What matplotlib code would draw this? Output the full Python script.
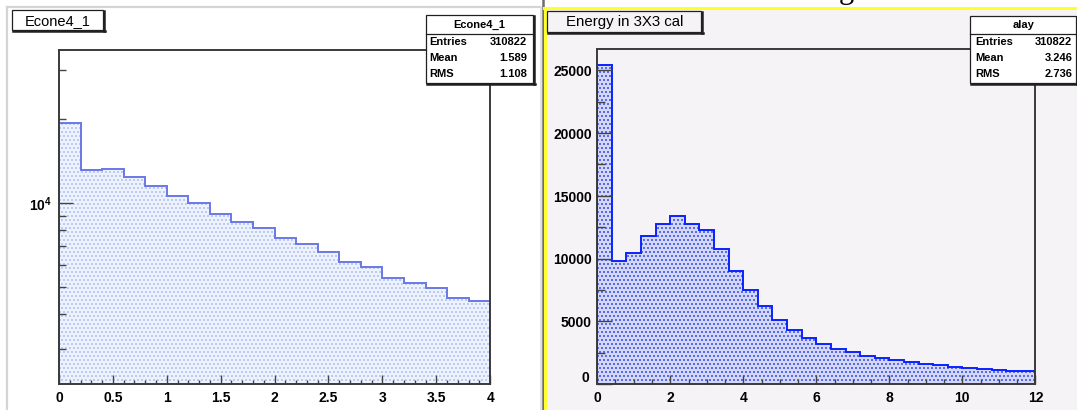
import numpy as np
import matplotlib
matplotlib.use("Agg")
import matplotlib.pyplot as plt
from matplotlib.patches import Rectangle
from matplotlib.lines import Line2D
from matplotlib.ticker import FixedLocator, FixedFormatter, NullFormatter

# ---------------- data ----------------
# Econe4_1 : 20 bins on [0, 4], log y
econe_range = (0.0, 4.0)
econe_counts = [19400, 13190, 13300, 12380, 11530, 10640, 10020, 9150, 8590, 8140,
                7510, 7120, 6700, 6130, 5895, 5395, 5170, 4940, 4545, 4455]
econe_stats = [("Entries", "310822"), ("Mean", "1.589"), ("RMS", "1.108")]
econe_xticks = [0, 0.5, 1, 1.5, 2, 2.5, 3, 3.5, 4]
econe_xticklabels = ["0", "0.5", "1", "1.5", "2", "2.5", "3", "3.5", "4"]
econe_yticks = [1e4]
econe_yticklabels = [r"$10^{4}$"]
econe_yminor = [2000, 3000, 4000, 5000, 6000, 7000, 8000, 9000, 20000, 30000]

# alay : energy in 3x3 cal, 30 bins on [0, 12]
alay_range = (0.0, 12.0)
alay_counts = [25460, 9780, 10410, 11830, 12790, 13390, 12790, 12270, 10760, 9040,
               7490, 6230, 5110, 4340, 3630, 3170, 2810, 2570, 2210, 2050,
               1890, 1750, 1610, 1500, 1370, 1280, 1200, 1120, 1040, 1040]
alay_stats = [("Entries", "310822"), ("Mean", "3.246"), ("RMS", "2.736")]
alay_xticks = [0, 2, 4, 6, 8, 10, 12]
alay_xticklabels = ["0", "2", "4", "6", "8", "10", "12"]
alay_yticks = [0, 5000, 10000, 15000, 20000, 25000]
alay_yticklabels = ["", "5000", "10000", "15000", "20000", "25000"]

# ---------------- style ----------------
# 96 dpi makes the dot hatch (24 rows per inch) land on an exact 4-pixel grid;
# PT rescales point sizes so that they keep their 100-dpi pixel size.
DPI = 96
PT = 100 / DPI

plt.rcParams["font.family"] = ["Liberation Sans", "DejaVu Sans"]
plt.rcParams["mathtext.fontset"] = "custom"
plt.rcParams["mathtext.rm"] = "Liberation Sans:bold"
plt.rcParams["mathtext.bf"] = "Liberation Sans:bold"
plt.rcParams["hatch.linewidth"] = 0.8 * PT

W, H = 1077, 410
PANEL_BG = "#f6f3f6"
FRAME = "#3a3a3a"


def frect(x0, y0, x1, y1):
    return [x0 / W, 1 - y1 / H, (x1 - x0) / W, (y1 - y0) / H]


def fx(px):
    return px / W


def fy(py):
    return 1 - py / H


fig = plt.figure(figsize=((W + 0.4) / DPI, (H + 0.4) / DPI), dpi=DPI)
fig.patch.set_facecolor("white")

# right-hand canvas background
fig.add_artist(Rectangle((fx(544), 0), 1 - fx(544), fy(9), transform=fig.transFigure,
                         facecolor=PANEL_BG, edgecolor="none", zorder=-10))


def fline(xs, ys, lw=1.0, **kw):
    fig.add_artist(Line2D([fx(v) for v in xs], [fy(v) for v in ys],
                          transform=fig.transFigure, lw=lw * PT, **kw))


# canvas borders
fline([7, 7], [7, 410], color="#d4d4d4", lw=1.6)
fline([7, 540], [7, 7], color="#d4d4d4", lw=1.6)
fline([540.5, 540.5], [7, 410], color="#dcdcdc", lw=1.2)
fline([542.5, 542.5], [0, 410], color="#6e6e6e", lw=1.8)
fline([545, 545], [8, 410], color="#ffff2e", lw=2.2)
fline([544, 1077], [8.5, 8.5], color="#ffff2e", lw=2.2)
fig.text(fx(846), fy(-1.5), "g", family="Liberation Serif", fontsize=22 * PT,
         ha="center", va="baseline")

tick_font = dict(fontweight="bold", fontsize=10 * PT, family="Liberation Sans")


def style_axes(ax, face):
    ax.set_facecolor(face)
    for s in ax.spines.values():
        s.set_color(FRAME)
        s.set_linewidth(1.4 * PT)
    ax.tick_params(which="both", direction="in", top=False, right=False,
                   color="#444444", width=1.0 * PT, labelcolor="black")


# ---------------- left: Econe4_1 ----------------
ax1 = fig.add_axes(frect(59, 50, 490, 384))
edges1 = np.linspace(econe_range[0], econe_range[1], len(econe_counts) + 1)
ax1.set_yscale("log")
ax1.stairs(econe_counts, edges1, baseline=1, fill=True, facecolor="#edf2fc",
           edgecolor="#a9bff0", hatch="....", linewidth=0)
ax1.stairs(econe_counts, edges1, baseline=1, fill=False, color="#6a78e6", lw=1.4 * PT)
ax1.set_xlim(*econe_range)
ax1.set_ylim(2240, 35600)
ax1.xaxis.set_major_locator(FixedLocator(econe_xticks))
ax1.xaxis.set_major_formatter(FixedFormatter(econe_xticklabels))
ax1.xaxis.set_minor_locator(FixedLocator(np.arange(0, 4.001, 0.1)))
ax1.yaxis.set_major_locator(FixedLocator(econe_yticks))
ax1.yaxis.set_major_formatter(FixedFormatter(econe_yticklabels))
ax1.yaxis.set_minor_locator(FixedLocator(econe_yminor))
ax1.yaxis.set_minor_formatter(NullFormatter())
style_axes(ax1, "white")
ax1.tick_params(axis="y", which="major", length=10 * PT, pad=5 * PT)
ax1.tick_params(axis="y", which="minor", length=5 * PT)
ax1.tick_params(axis="x", which="major", length=6.5 * PT, pad=5 * PT)
ax1.tick_params(axis="x", which="minor", length=3.2 * PT)
for lab in ax1.get_xticklabels() + ax1.get_yticklabels():
    lab.set(**tick_font)

# ---------------- right: Energy in 3X3 cal ----------------
ax2 = fig.add_axes(frect(597, 49, 1035, 384))
edges2 = np.linspace(alay_range[0], alay_range[1], len(alay_counts) + 1)
ax2.stairs(alay_counts, edges2, baseline=0, fill=True, facecolor="#d5d8f5",
           edgecolor="#3048ee", hatch="....", linewidth=0)
ax2.stairs(alay_counts, edges2, baseline=0, fill=False, color="#0a22ff", lw=1.4 * PT)
ax2.set_xlim(*alay_range)
ax2.set_ylim(0, max(alay_counts) * 1.05)
ax2.xaxis.set_major_locator(FixedLocator(alay_xticks))
ax2.xaxis.set_major_formatter(FixedFormatter(alay_xticklabels))
ax2.xaxis.set_minor_locator(FixedLocator(np.arange(0, 12.001, 0.5)))
ax2.yaxis.set_major_locator(FixedLocator(alay_yticks))
ax2.yaxis.set_major_formatter(FixedFormatter(alay_yticklabels))
ax2.yaxis.set_minor_locator(FixedLocator(np.arange(0, 26001, 2500)))
style_axes(ax2, PANEL_BG)
ax2.tick_params(axis="y", which="major", length=10.5 * PT, pad=4 * PT)
ax2.tick_params(axis="y", which="minor", length=5.5 * PT)
ax2.tick_params(axis="x", which="major", length=6.5 * PT, pad=5 * PT)
ax2.tick_params(axis="x", which="minor", length=3.5 * PT)
for lab in ax2.get_xticklabels() + ax2.get_yticklabels():
    lab.set(**tick_font)
# zero of the y axis sits a little above and left of the x-axis zero
ax2.annotate("0", xy=(0, 0), xycoords="axes fraction", xytext=(-8, 6),
             textcoords="offset pixels", ha="right", va="center", **tick_font)


# ---------------- title boxes and stats boxes ----------------
def shadow_box(x0, y0, x1, y1, face):
    fig.add_artist(Rectangle((fx(x0), fy(y1)), fx(x1) - fx(x0), fy(y0) - fy(y1),
                             transform=fig.transFigure, facecolor=face,
                             edgecolor="#202020", lw=0.9 * PT, zorder=5))
    fline([x1 + 1, x1 + 1], [y0 + 1, y1 + 1.5], color="#202020", lw=1.8, zorder=6)
    fline([x0 + 1, x1 + 1.5], [y1 + 1, y1 + 1], color="#202020", lw=1.8, zorder=6)


shadow_box(12, 10, 103, 30, "white")
fig.text(fx(57.5), fy(20.5), "Econe4_1", fontsize=10.5 * PT, ha="center",
         va="center", zorder=7)

shadow_box(547, 11, 701, 32, PANEL_BG)
fig.text(fx(624), fy(21.5), "Energy in 3X3 cal", fontsize=10.8 * PT, ha="center",
         va="center", zorder=7)


def stats_box(x0, y0, x1, y1, name, rows, lab_x, val_x):
    shadow_box(x0, y0, x1, y1, "white")
    fline([x0, x1], [34, 34], color="#202020", lw=0.9, zorder=6)
    fig.text(fx((x0 + x1) / 2), fy(25), name, fontsize=8 * PT, fontweight="bold",
             ha="center", va="center", zorder=7)
    for i, (lab, val) in enumerate(rows):
        yy = 41.5 + 16.3 * i
        fig.text(fx(lab_x), fy(yy), lab, fontsize=8 * PT, fontweight="bold",
                 ha="left", va="center", zorder=7)
        fig.text(fx(val_x), fy(yy), val, fontsize=8 * PT, fontweight="bold",
                 ha="right", va="center", zorder=7)


stats_box(426, 15.5, 533, 83, "Econe4_1", econe_stats, 429, 527)
stats_box(970, 16.5, 1076, 83, "alay", alay_stats, 975, 1072)

fig.savefig("out.png", dpi=DPI)
